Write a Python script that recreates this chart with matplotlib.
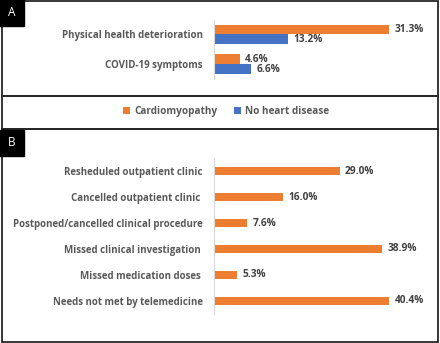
import matplotlib.pyplot as plt
from matplotlib.patches import Rectangle

plt.rcParams['font.family'] = ['Open Sans', 'DejaVu Sans']

# panel A: symptoms, two groups
a_labels = ['Physical health deterioration', 'COVID-19 symptoms']
a_cardio = [31.3, 4.6]
a_none = [13.2, 6.6]

# panel B: disruption of care, cardiomyopathy only
b_labels = ['Resheduled outpatient clinic', 'Cancelled outpatient clinic ',
            'Postponed/cancelled clinical procedure', 'Missed clinical investigation ',
            'Missed medication doses ', 'Needs not met by telemedicine']
b_values = [29.0, 16.0, 7.6, 38.9, 5.3, 40.4]

ORANGE = '#ED7D31'
BLUE = '#4472C4'
LABEL_C = '#595959'
VALUE_C = '#404040'
W, H = 440, 343

fig = plt.figure(figsize=(W / 100, H / 100), dpi=100)


def px_axes(x0, y0, x1, y1, **kw):
    return fig.add_axes([x0 / W, 1 - y1 / H, (x1 - x0) / W, (y1 - y0) / H], **kw)


def style(ax):
    for s in ['top', 'right', 'bottom']:
        ax.spines[s].set_visible(False)
    ax.spines['left'].set_color('#D9D9D9')
    ax.spines['left'].set_linewidth(0.8)
    ax.set_xticks([])
    ax.tick_params(axis='y', length=0, pad=8, labelsize=7.0, labelcolor=LABEL_C)
    for t in ax.get_yticklabels():
        t.set_fontweight('bold')
    ax.patch.set_alpha(0)


def value_label(ax, v, y):
    ax.annotate(f'{v:.1f}%', (v, y), xytext=(4, 0), textcoords='offset points',
                ha='left', va='center', fontsize=7.3, fontweight='bold', color=VALUE_C)


# frames
bg = fig.add_axes([0, 0, 1, 1])
bg.set_xlim(0, W)
bg.set_ylim(H, 0)
bg.axis('off')
frame = dict(fill=False, edgecolor='#262626', linewidth=1.3)
bg.add_patch(Rectangle((1.5, 1), 436.5, 94.5, **frame))
bg.add_patch(Rectangle((1.5, 95.5), 436.5, 33.5, **frame))
bg.add_patch(Rectangle((1.5, 129), 436.5, 212.5, **frame))
for tag, y in [('A', 0), ('B', 129.5)]:
    bg.add_patch(Rectangle((0, y), 24, 26, color='black'))
    bg.text(12, y + 13, tag, color='white', fontsize=8.5, ha='center', va='center')

# panel A
h = 0.33
axA = px_axes(214, 19.5, 420, 79)
pos = range(len(a_labels))
axA.barh([p - h / 2 for p in pos], a_cardio, height=h, color=ORANGE, label='Cardiomyopathy')
axA.barh([p + h / 2 for p in pos], a_none, height=h, color=BLUE, label='No heart disease')
for p, v in zip(pos, a_cardio):
    value_label(axA, v, p - h / 2)
for p, v in zip(pos, a_none):
    value_label(axA, v, p + h / 2)
axA.set_yticks(list(pos))
axA.set_yticklabels(a_labels)
axA.set_xlim(0, 36.85)
axA.set_ylim(1.5, -0.5)
style(axA)

# legend
handles, names = axA.get_legend_handles_labels()
leg = fig.legend(handles, names, loc='center', bbox_to_anchor=(226 / W, 1 - 112 / H),
                 ncol=2, frameon=False, fontsize=7.2, handlelength=0.7, handleheight=0.7,
                 handletextpad=0.4, columnspacing=1.6)
for t in leg.get_texts():
    t.set_color(LABEL_C)
    t.set_fontweight('bold')

# panel B
axB = px_axes(214, 158.4, 420, 313.6)
posB = range(len(b_labels))
axB.barh(list(posB), b_values, height=0.32, color=ORANGE)
for p, v in zip(posB, b_values):
    value_label(axB, v, p)
axB.set_yticks(list(posB))
axB.set_yticklabels(b_labels)
axB.set_xlim(0, 47.6)
axB.set_ylim(5.5, -0.5)
style(axB)

fig.savefig('out.png', dpi=100)
